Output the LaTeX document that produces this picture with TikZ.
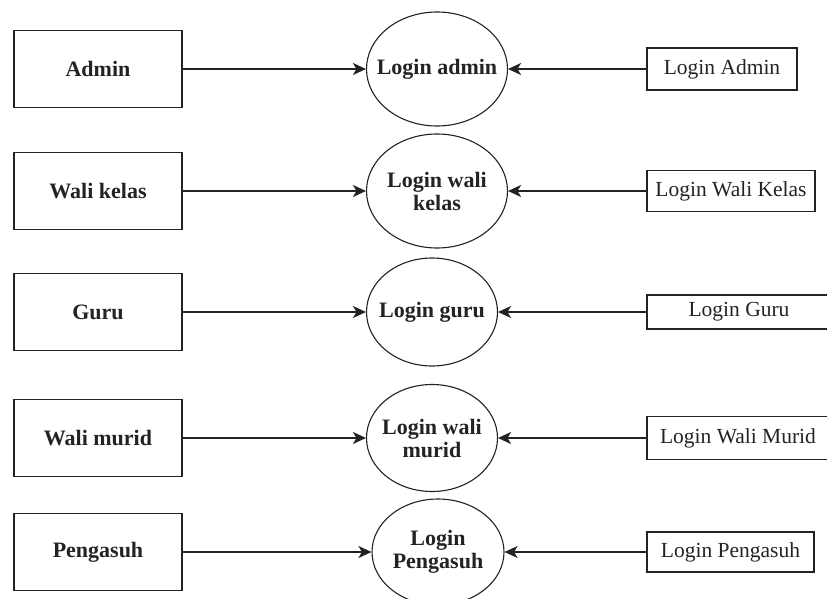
\documentclass[tikz,border=0pt]{standalone}
\usepackage{fontspec}
\setmainfont{Liberation Serif}
\usetikzlibrary{shapes.geometric,arrows.meta}
\definecolor{ink}{RGB}{35,35,35}
\begin{document}
\begin{tikzpicture}[x=1pt,y=-1pt,
  every node/.style={text=ink},
  actor/.style={draw=ink,line width=1.3pt,minimum width=168pt,minimum height=77pt,inner sep=0pt,font=\fontsize{22}{24}\selectfont\bfseries},
  proc/.style={draw=ink,line width=1.1pt,ellipse,inner xsep=-40pt,inner ysep=-20pt,align=center,font=\fontsize{22}{23}\selectfont\bfseries},
  ext/.style={draw=ink,line width=1.3pt,inner sep=0pt,font=\fontsize{21.5}{23}\selectfont},
  flow/.style={draw=ink,line width=1.4pt,-{Stealth[length=13pt,width=12pt,inset=3.5pt]}}]
\useasboundingbox (0,0) rectangle (827,599);
\fill[white] (0,0) rectangle (827,599);
% row 1
\node[actor] (a1) at (98,69) {Admin};
\node[proc,minimum width=141pt,minimum height=114pt] (c1) at (437,69) {Login admin};
\node[ext,minimum width=150pt,minimum height=42pt] (r1) at (722,69) {Login Admin};
% row 2
\node[actor] (a2) at (98,191) {Wali kelas};
\node[proc,minimum width=141pt,minimum height=114pt] (c2) at (437,191) {Login wali\\kelas};
\node[ext,minimum width=168pt,minimum height=41pt] (r2) at (731,191) {Login Wali Kelas};
% row 3
\node[actor] (a3) at (98,312) {Guru};
\node[proc,minimum width=131pt,minimum height=108pt] (c3) at (432,312) {Login guru};
\node[ext,minimum width=184pt,minimum height=34pt] (r3) at (739,312) {Login Guru};
% row 4
\node[actor] (a4) at (98,438) {Wali murid};
\node[proc,minimum width=131pt,minimum height=107pt] (c4) at (432,438) {Login wali\\murid};
\node[ext,minimum width=182pt,minimum height=43pt] (r4) at (738,438) {Login Wali Murid};
% row 5
\node[actor] (a5) at (98,552) {Pengasuh};
\node[proc,minimum width=132pt,minimum height=106pt] (c5) at (438,552) {Login\\Pengasuh};
\node[ext,minimum width=167pt,minimum height=40pt] (r5) at (730.5,552) {Login Pengasuh};
% flows
\foreach \i in {1,...,5}{
  \draw[flow] (a\i.east) -- (c\i.west);
  \draw[flow] (r\i.west) -- (c\i.east);
}
\end{tikzpicture}
\end{document}
